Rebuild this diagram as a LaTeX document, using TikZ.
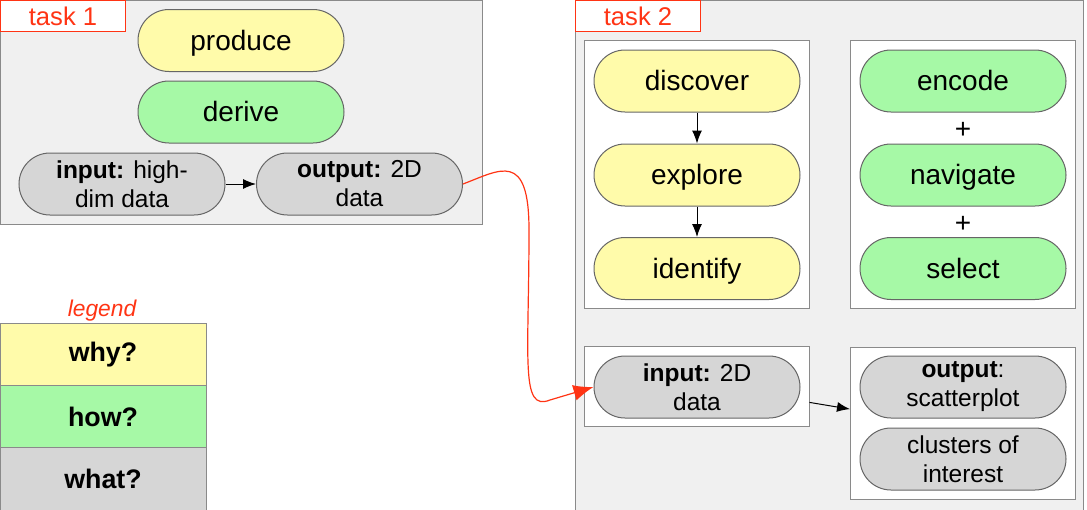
\documentclass[tikz,border=0pt]{standalone}
\usepackage{fontspec}
\setmainfont{Liberation Sans}
\usetikzlibrary{arrows.meta}
\definecolor{WhyFill}{HTML}{FFFBAA}
\definecolor{HowFill}{HTML}{A6F9A6}
\definecolor{WhatFill}{HTML}{D6D6D6}
\definecolor{PanelFill}{HTML}{F0F0F0}
\definecolor{TaskRed}{HTML}{FF3414}
\definecolor{EdgeGray}{HTML}{8A8A8A}

\begin{document}
\begin{tikzpicture}[x=0.5pt,y=-0.5pt, line width=0.5pt,
  pill/.style={draw=black!60,rounded corners=15.5pt,minimum width=103pt,minimum height=31pt,inner sep=0pt,align=center,font=\fontsize{14}{17}\selectfont},
  why/.style={pill,fill=WhyFill,text height=12.7pt,text depth=3pt},
  how/.style={pill,fill=HowFill,text height=12.7pt,text depth=3pt},
  what/.style={pill,fill=WhatFill,font=\fontsize{12.25}{14.5}\selectfont},
  panel/.style={draw=EdgeGray,fill=PanelFill,inner sep=0pt,anchor=north west},
  inbox/.style={draw=EdgeGray,fill=white,inner sep=0pt,minimum width=112.5pt},
  tasklabel/.style={draw=TaskRed,fill=white,text=TaskRed,anchor=north west,minimum width=62.5pt,minimum height=15.5pt,inner sep=0pt,font=\fontsize{12.8}{15}\selectfont},
  flow/.style={-{Latex[length=6.5pt,width=5pt]}}]
  \useasboundingbox (0,0) rectangle (1087,509);

  % task 1
  \node[panel,minimum width=241pt,minimum height=112pt] (task1) at (0,0) {};
  \node[tasklabel] (t1lab) at (0,0) {task 1};
  \node[why] (produce) at (241,40.5) {produce};
  \node[how] (derive) at (241,112) {derive};
  \node[what] (t1in) at (122,184) {\textbf{input:} high-\\dim data};
  \node[what] (t1out) at (359.5,184) {\textbf{output:} 2D\\data};
  \draw[flow] (t1in) -- (t1out);

  % task 2
  \node[panel,minimum width=254pt,minimum height=256pt] (task2) at (575,0) {};
  \node[tasklabel] (t2lab) at (575,0) {task 2};
  \node[inbox,minimum height=134pt] (whybox) at (696.5,174.5) {};
  \node[inbox,minimum height=134pt] (howbox) at (963,174.5) {};
  \node[why] (discover) at (697,81) {discover};
  \node[why] (explore) at (697,175) {explore};
  \node[why] (identify) at (697,268.5) {identify};
  \draw[flow] (discover) -- (explore);
  \draw[flow] (explore) -- (identify);
  \node[how] (encode) at (963,81) {encode};
  \node[how] (navigate) at (963,175) {navigate};
  \node[how] (select) at (963,268.5) {select};
  \node[font=\fontsize{14}{17}\selectfont] (plusA) at (963,130) {+};
  \node[font=\fontsize{14}{17}\selectfont] (plusB) at (963,224) {+};

  \node[inbox,minimum height=40pt] (inbox2) at (696.5,386.5) {};
  \node[inbox,minimum height=76pt] (outbox2) at (963,423) {};
  \node[what] (t2in) at (697,387) {\textbf{input:} 2D\\data};
  \node[what] (t2out) at (963,387) {\textbf{output}:\\scatterplot};
  \node[what] (clusters) at (963,459) {clusters of\\interest};
  \draw[flow] (inbox2.-8) -- (outbox2.173);

  % hand-off from task 1 to task 2
  \draw[TaskRed,line width=0.6pt,-{Latex[length=10pt,width=8pt]}] (t1out.east)
    .. controls (500,170) and (529,150) .. (529,230)
    .. controls (529,360) and (520,412) .. (550,400)
    -- (t2in.west);

  % legend
  \node[text=TaskRed,font=\itshape\fontsize{11.4}{13}\selectfont] (legend) at (102,311) {legend};
  \foreach \y/\col/\txt in {354.5/WhyFill/why?,417/HowFill/how?,479/WhatFill/what?}{
    \node[draw=EdgeGray,fill=\col,minimum width=103pt,minimum height=31.5pt,inner sep=0pt,
      font=\bfseries\fontsize{13.4}{16}\selectfont] (lg\col) at (103,\y) {\txt};
  }
\end{tikzpicture}
\end{document}
